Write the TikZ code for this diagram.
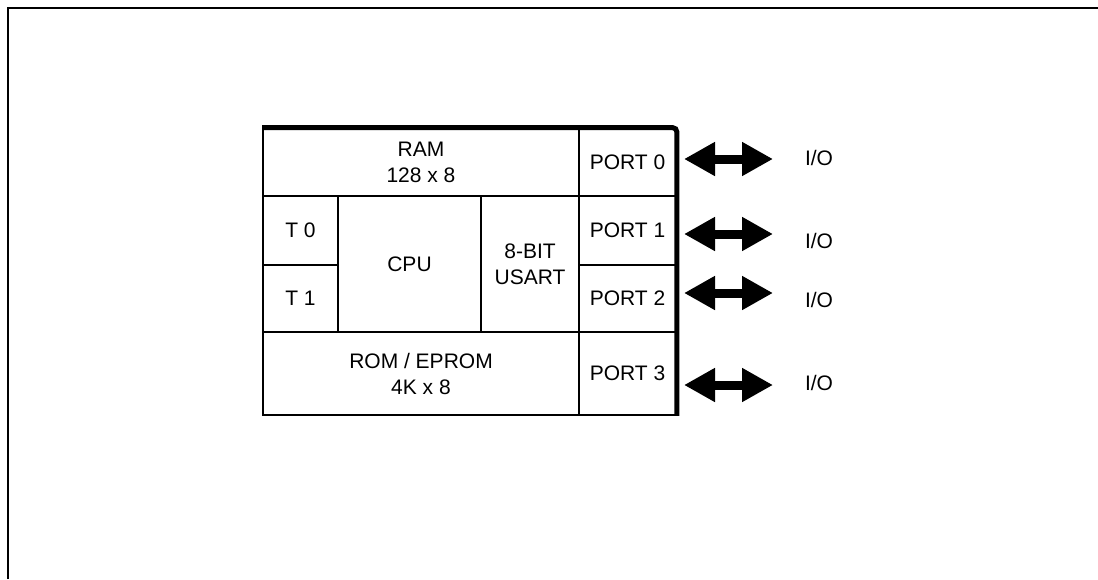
\documentclass[tikz,border=0pt]{standalone}
\usepackage{fontspec}
\setmainfont{Liberation Sans}
\usetikzlibrary{arrows.meta}
\tikzset{>=latex}
\tikzset{
  cell/.style={draw, line width=0.8pt, inner sep=0pt, align=center,
    font=\fontsize{10.5}{13}\selectfont},
  iolabel/.style={inner sep=0pt, font=\fontsize{10.5}{13}\selectfont},
  bidir/.style={line width=4.5pt,
    {Triangle[length=15.5pt,width=16pt]}-{Triangle[length=15.5pt,width=16pt]}}
}

\begin{document}
\begin{tikzpicture}[x=0.5pt,y=-0.5pt]
    \useasboundingbox (0,0) rectangle (1098,579);

    % frame
    \draw[line width=1.2pt] (8,579) -- (8,8) -- (1098,8);

    % cells
    \node[cell, minimum width=158pt, minimum height=33.75pt] (ram) at (421,162.25) {RAM\\128 x 8};
    \node[cell, minimum width=48.5pt, minimum height=33.75pt] (p0) at (627.5,162.25) {PORT 0};
    \node[cell, minimum width=37.5pt, minimum height=34.5pt] (t0) at (300.5,230.5) {T 0};
    \node[cell, minimum width=37.5pt, minimum height=33.5pt] (t1) at (300.5,298.5) {T 1};
    \node[cell, minimum width=71.5pt, minimum height=68pt] (cpu) at (409.5,264) {CPU};
    \node[cell, minimum width=49pt, minimum height=68pt] (usart) at (530,264) {8-BIT\\USART};
    \node[cell, minimum width=48.5pt, minimum height=34.5pt] (p1) at (627.5,230.5) {PORT 1};
    \node[cell, minimum width=48.5pt, minimum height=33.5pt] (p2) at (627.5,298.5) {PORT 2};
    \node[cell, minimum width=158pt, minimum height=41.5pt] (rom) at (421,373.5) {ROM / EPROM\\4K x 8};
    \node[cell, minimum width=48.5pt, minimum height=41.5pt] (p3) at (627.5,373.5) {PORT 3};

    % heavy top and right edge
    \draw[line width=2.5pt, rounded corners=2pt] (ram.north west) -- (p0.north east) -- (p3.south east);

    % I/O
    \node[iolabel] (io0) at (819,157.5) {I/O};
    \node[iolabel] (io1) at (819,240.5) {I/O};
    \node[iolabel] (io2) at (819,300) {I/O};
    \node[iolabel] (io3) at (819,383) {I/O};

    \coordinate (l0) at (684,159);
    \coordinate (r0) at (773,159);
    \coordinate (l1) at (684,234);
    \coordinate (r1) at (773,234);
    \coordinate (l2) at (684,293);
    \coordinate (r2) at (773,293);
    \coordinate (l3) at (684,385);
    \coordinate (r3) at (773,385);

    \draw[bidir] (l0) -- (r0);
    \draw[bidir] (l1) -- (r1);
    \draw[bidir] (l2) -- (r2);
    \draw[bidir] (l3) -- (r3);
\end{tikzpicture}
\end{document}
